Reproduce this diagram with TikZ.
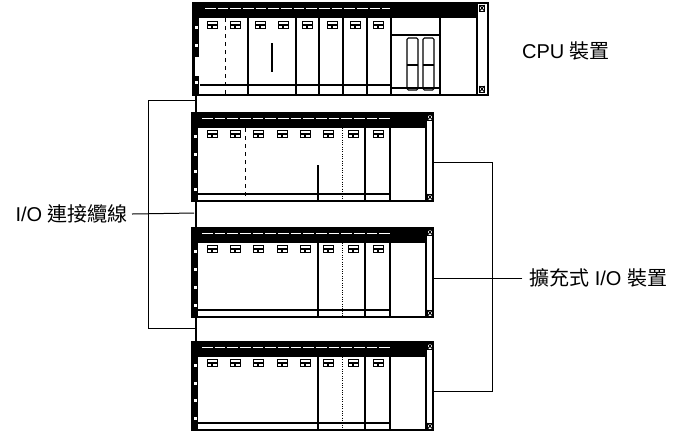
\documentclass[tikz,border=0pt]{standalone}
\usepackage{fontspec}
\setmainfont{Liberation Sans}
\newfontfamily\cjk{Noto Sans CJK TC}
\tikzset{
  rackbox/.style={draw, line width=1.1pt, fill=white, inner sep=0pt, outer sep=0pt},
  slotline/.style={line width=0.8pt},
  thinline/.style={line width=0.75pt},
  cable/.style={line width=1.8pt},
  modicon/.style={line width=0.7pt},
  lbl/.style={font=\fontsize{15}{18}\selectfont, inner sep=0pt},
}
\newcommand{\modicons}[2]{% #1 = list of x, #2 = y
  \foreach \mx in {#1} {
    \draw[modicon] (\mx-5,#2-3.5) rectangle (\mx+5,#2+3.5);
    \fill (\mx-5,#2-1) rectangle (\mx+5,#2+1.2);
    \fill (\mx-1,#2+1.2) rectangle (\mx+1,#2+3.5);
  }}
\newcommand{\leftcol}[3]{% #1 x0, #2 top, #3 bottom
  \fill (#1,#2) rectangle (#1+6,#3);
  \foreach \my in {0.25,0.45,0.65,0.85} {
    \fill[white] (#1+1.5,{#2+\my*(#3-#2)}) rectangle (#1+4.5,{#2+\my*(#3-#2)+3});
  }}
\newcommand{\xicon}[2]{% #1 x left, #2 y top
  \draw[modicon] (#1,#2) rectangle (#1+5,#2+6);
  \draw[modicon] (#1,#2) -- (#1+5,#2+6) (#1+5,#2) -- (#1,#2+6);}
\newcommand{\exprack}[4]{% name, top, bottom, extra
  \node[rackbox, minimum width=241*0.75pt, minimum height={(#3-#2)*0.75pt}] (#1) at (312.5,{(#2+#3)/2}) {};
  \fill (192,#2) rectangle (426,#2+15);
  \draw[white, line width=0.6pt, dash pattern=on 8pt off 1.5pt] (202,#2+5) -- (390,#2+5);
  \leftcol{192}{#2}{#3}
  \draw[line width=1.1pt] (426,#2) -- (426,#3);
  \xicon{427.5}{#2+1}
  \xicon{427.5}{#3-7}
  \draw[slotline] (365,#2+15) -- (365,#3);
  \draw[slotline] (390,#2+15) -- (390,#3);
  \draw[slotline] (198,#3-7) -- (390,#3-7);
  \draw[thinline, densely dotted] (342,#2+15) -- (342,#3);
  #4
  \modicons{212,235,258,282,305,328,353,378}{#2+21}
}
\begin{document}
\begin{tikzpicture}[x=0.75pt, y=-0.75pt]
\useasboundingbox (0,0) rectangle (680,433);
% cable
\draw[cable] (196,95) -- (196,342);
\coordinate (cabmid) at (194,213);
\draw[thinline] (196,100) -- (148,100) -- (148,328) -- (196,328);
% CPU rack
\node[rackbox, minimum width=295*0.75pt, minimum height=92*0.75pt] (cpu) at (340.5,49) {};
\fill (193,3) rectangle (477,18);
\draw[white, line width=0.6pt, dash pattern=on 8pt off 1.5pt] (205,8) -- (390,8);
\leftcol{193}{3}{95}
\fill[white] (195,57) rectangle (199,76);
\draw[line width=1.1pt] (477,3) -- (477,95);
\xicon{479.5}{5}
\xicon{479.5}{86}
\foreach \vx in {248,296,319,343,367,391,440} { \draw[slotline] (\vx,18) -- (\vx,95); }
\draw[thinline, dashed] (225,18) -- (225,95);
\draw[line width=1.2pt] (272,43) -- (272,72);
\draw[slotline] (200,85) -- (391,85);
\draw[slotline] (391,88) -- (440,88);
\draw[slotline] (391,35) -- (440,35);
\foreach \fx in {407,423} {
  \draw[slotline, rounded corners=1pt] (\fx,38) rectangle (\fx+11,90);
  \draw[slotline] (\fx,65) -- (\fx+11,65);
}
\modicons{212,235,260,283,307,332,355,378}{25}
% expansion racks
\exprack{exa}{113}{201}{\draw[thinline, dashed] (245,128) -- (245,201); \draw[slotline] (318,165) -- (318,201);}
\exprack{exb}{228}{317}{\draw[slotline] (318,243) -- (318,317);}
\exprack{exc}{342}{430}{\draw[slotline] (318,357) -- (318,430);}
% labels
\node[lbl] (cpulbl) at (566,51) {CPU {\cjk 裝置}};
\node[lbl, anchor=east] (iolbl) at (128,214) {I/O {\cjk 連接纜線}};
\node[lbl, anchor=west] (exlbl) at (529,278) {{\cjk 擴充式} I/O {\cjk 裝置}};
% connectors
\coordinate (brk) at (492,278);
\draw[thinline] ([xshift=3pt]iolbl.east) -- (cabmid);
\draw[thinline] ([xshift=-5pt]exlbl.west) -- (exb.east |- brk);
\draw[thinline] (exa.east |- 0,162) -- (brk |- 0,162) -- (brk |- 0,391) -- (exc.east |- 0,391);
\end{tikzpicture}
\end{document}
